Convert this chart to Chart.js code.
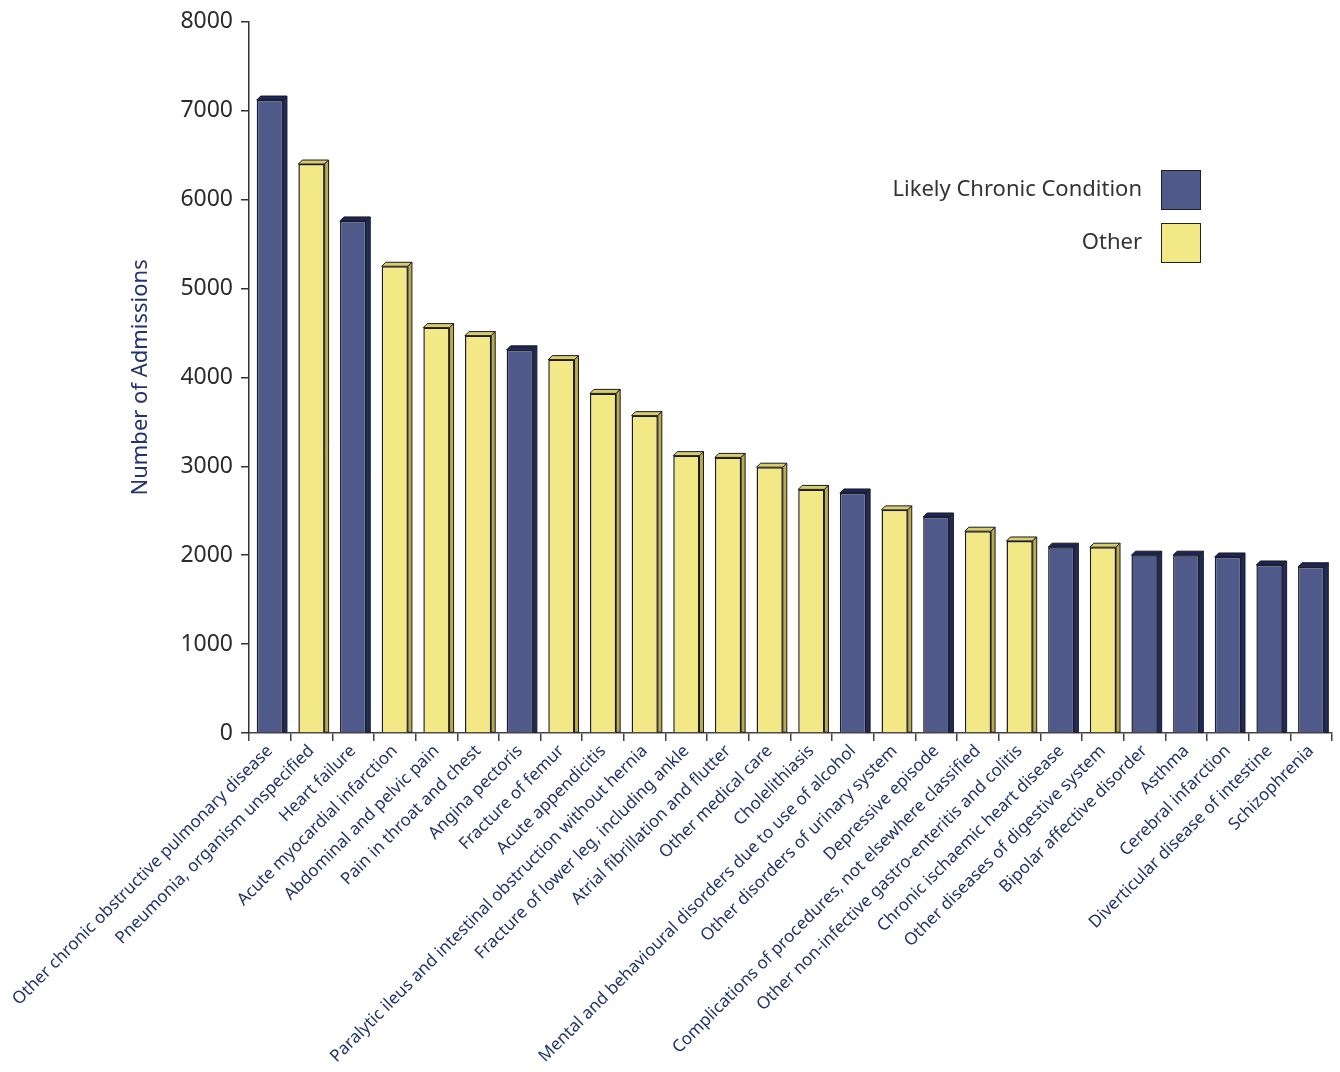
<!DOCTYPE html>
<html>
<head>
<meta charset="utf-8">
<script src="https://cdn.jsdelivr.net/npm/chart.js@4.4.1/dist/chart.umd.min.js"></script>
<style>
  html, body { margin: 0; padding: 0; background: #fff; }
  #wrap { width: 1340px; height: 1072px; position: relative; }
</style>
</head>
<body>
<div id="wrap"><canvas id="grafica"></canvas></div>
<script>
// --- Datos ---
const categorias = [
  "Other chronic obstructive pulmonary disease",
  "Pneumonia, organism unspecified",
  "Heart failure",
  "Acute myocardial infarction",
  "Abdominal and pelvic pain",
  "Pain in throat and chest",
  "Angina pectoris",
  "Fracture of femur",
  "Acute appendicitis",
  "Paralytic ileus and intestinal obstruction without hernia",
  "Fracture of lower leg, including ankle",
  "Atrial fibrillation and flutter",
  "Other medical care",
  "Cholelithiasis",
  "Mental and behavioural disorders due to use of alcohol",
  "Other disorders of urinary system",
  "Depressive episode",
  "Complications of procedures, not elsewhere classified",
  "Other non-infective gastro-enteritis and colitis",
  "Chronic ischaemic heart disease",
  "Other diseases of digestive system",
  "Bipolar affective disorder",
  "Asthma",
  "Cerebral infarction",
  "Diverticular disease of intestine",
  "Schizophrenia"
];
const admisiones = [7120, 6400, 5760, 5250, 4560, 4470, 4310, 4200, 3820, 3570, 3120, 3100, 2990,
                    2740, 2700, 2510, 2430, 2270, 2160, 2090, 2090, 2000, 2000, 1980, 1890, 1870];
// true = Likely Chronic Condition
const esCronica = [true, false, true, false, false, false, true, false, false, false, false, false, false,
                   false, true, false, true, false, false, true, false, true, true, true, true, true];
const seriesNombres = ["Likely Chronic Condition", "Other"];
const ticksY = [0, 1000, 2000, 3000, 4000, 5000, 6000, 7000, 8000];

const AZUL = '#4f5a8a';
const AMARILLO = '#f3e886';
const TEXTO_AZUL = '#22336e';
const FUENTE = "'Noto Sans', 'Open Sans', sans-serif";

const datosCronica = admisiones.map((v, i) => esCronica[i] ? v : null);
const datosOtra = admisiones.map((v, i) => esCronica[i] ? null : v);

// --- Barras con efecto 3D (cara superior y lateral) ---
const pluginBarras3D = {
  id: 'barras3D',
  afterDatasetsDraw(chart) {
    const ctx = chart.ctx;
    const d = 4;
    chart.data.datasets.forEach((ds, di) => {
      const meta = chart.getDatasetMeta(di);
      meta.data.forEach((bar, i) => {
        if (ds.data[i] == null) return;
        const w = bar.width;
        const izq = bar.x - w / 2, der = bar.x + w / 2, top = bar.y, base = bar.base;
        ctx.save();
        ctx.lineWidth = 1;
        ctx.strokeStyle = '#1a1a22';
        // cara superior
        ctx.beginPath();
        ctx.moveTo(izq, top);
        ctx.lineTo(izq + d, top - d);
        ctx.lineTo(der + d, top - d);
        ctx.lineTo(der, top);
        ctx.closePath();
        ctx.fillStyle = ds.topeColor;
        ctx.fill();
        ctx.stroke();
        // cara lateral
        ctx.beginPath();
        ctx.moveTo(der, top);
        ctx.lineTo(der + d, top - d);
        ctx.lineTo(der + d, base);
        ctx.lineTo(der, base);
        ctx.closePath();
        ctx.fillStyle = ds.ladoColor;
        ctx.fill();
        ctx.stroke();
        ctx.restore();
      });
    });
  }
};

// --- Leyenda: texto a la izquierda, caja a la derecha ---
const pluginLeyenda = {
  id: 'leyendaCustom',
  afterDraw(chart) {
    const ctx = chart.ctx;
    const area = chart.chartArea;
    const cajaX = area.right - 171;
    const filas = [170, 223];
    ctx.save();
    ctx.font = "22px " + FUENTE;
    ctx.textAlign = 'right';
    ctx.textBaseline = 'middle';
    chart.data.datasets.forEach((ds, i) => {
      const y = filas[i];
      ctx.fillStyle = '#333333';
      ctx.fillText(ds.label, cajaX - 19, y + 20);
      ctx.fillStyle = ds.backgroundColor;
      ctx.fillRect(cajaX, y, 39, 39);
      ctx.strokeStyle = '#222';
      ctx.lineWidth = 1;
      ctx.strokeRect(cajaX + 0.5, y + 0.5, 39, 39);
    });
    ctx.restore();
  }
};

const ctx = document.getElementById('grafica').getContext('2d');
new Chart(ctx, {
  type: 'bar',
  data: {
    labels: categorias,
    datasets: [
      {
        label: seriesNombres[0],
        data: datosCronica,
        backgroundColor: AZUL,
        topeColor: '#1c2656',
        ladoColor: '#1f2b5e',
        borderColor: '#1e1e2a',
        borderWidth: 1.5,
        barPercentage: 0.63,
        categoryPercentage: 1
      },
      {
        label: seriesNombres[1],
        data: datosOtra,
        backgroundColor: AMARILLO,
        topeColor: '#d8cc6c',
        ladoColor: '#b9aa4c',
        borderColor: '#1e1e2a',
        borderWidth: 1.5,
        barPercentage: 0.63,
        categoryPercentage: 1
      }
    ]
  },
  options: {
    responsive: true,
    maintainAspectRatio: false,
    animation: false,
    layout: { padding: { left: 118, right: 8, top: 8, bottom: 0 } },
    plugins: {
      legend: { display: false },
      tooltip: { enabled: false }
    },
    scales: {
      x: {
        stacked: true,
        border: { display: true, color: '#444', width: 1.5 },
        grid: { display: true, drawOnChartArea: false, offset: true, tickLength: 8, color: '#444', lineWidth: 1.5 },
        ticks: {
          autoSkip: false,
          minRotation: 45,
          maxRotation: 45,
          color: TEXTO_AZUL,
          font: { family: FUENTE, size: 17 },
          padding: 0
        },
        afterFit: (scale) => { scale.height = 339; }
      },
      y: {
        stacked: true,
        min: 0,
        max: 8000,
        afterBuildTicks: (scale) => { scale.ticks = ticksY.map(v => ({ value: v })); },
        border: { display: true, color: '#333', width: 1.5 },
        grid: { display: true, drawOnChartArea: false, tickLength: 8, color: '#333', lineWidth: 1.5 },
        ticks: {
          color: '#2b2b2b',
          font: { family: FUENTE, size: 23 },
          padding: 8,
          callback: (val) => String(val)
        },
        title: {
          display: true,
          text: 'Number of Admissions',
          color: TEXTO_AZUL,
          font: { family: FUENTE, size: 22 },
          padding: { top: 10, bottom: 0 }
        },
        afterFit: (scale) => { scale.width = 131; }
      }
    }
  },
  plugins: [pluginBarras3D, pluginLeyenda]
});
</script>
</body>
</html>
